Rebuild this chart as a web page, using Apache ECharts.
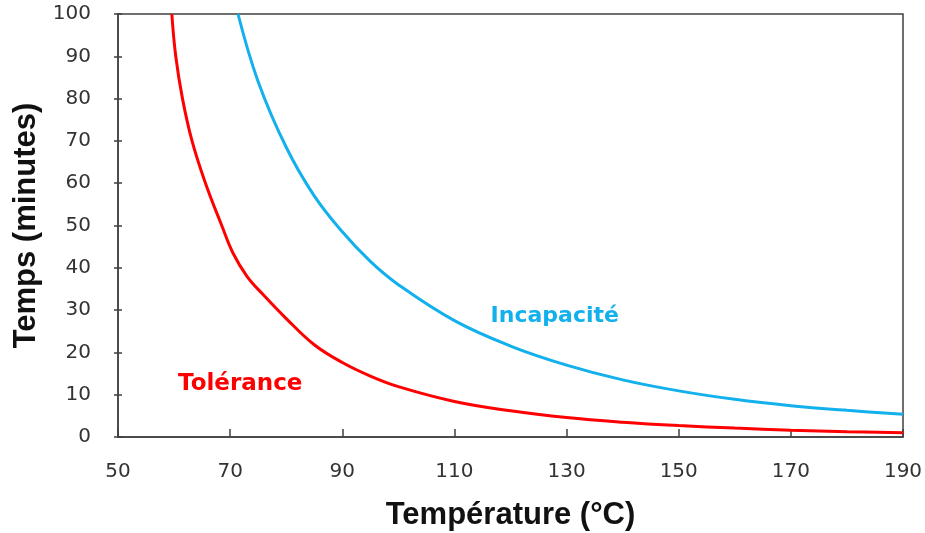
<!DOCTYPE html>
<html>
  <head>
    <meta charset="UTF-8" />
    <title>Temps vs Température</title>
    <style>
      html, body { margin: 0; padding: 0; background: #fff; }
      #chart { width: 925px; height: 533px; }
    </style>
    <script type="text/javascript" src="https://cdn.jsdelivr.net/npm/echarts@6/dist/echarts.min.js"></script>
  </head>
  <body>
    <div id="chart"></div>
    <script>
      // courbe de tolérance : [température °C, temps min]
      var tolerance = [
        [59.6, 100], [60.3, 90], [61.5, 80], [63.2, 70], [65.6, 60],
        [68.5, 50], [70.5, 43.5], [73, 38], [76, 33.5], [80, 28],
        [85, 21.8], [90, 17.6], [95, 14.4], [100, 11.9], [110, 8.4],
        [120, 6.2], [130, 4.6], [140, 3.5], [150, 2.7], [160, 2.1],
        [170, 1.6], [180, 1.25], [190, 1.0]
      ];
      // courbe d'incapacité
      var incapacite = [
        [71.4, 100], [75, 84], [80, 68.5], [85, 57], [90, 48.5],
        [95, 41.5], [100, 36], [110, 27.5], [120, 21.5], [130, 17],
        [140, 13.5], [150, 10.9], [160, 8.9], [170, 7.4], [180, 6.3],
        [190, 5.4]
      ];
      var xTicks = [50, 190, 20];   // min, max, pas
      var yTicks = [0, 100, 10];
      var toleranceLabel = [71.8, 12.5];
      var incapaciteLabel = [127.9, 28.6];

      var chart = echarts.init(document.getElementById("chart"));
      var axisColor = "#404040";
      var labelFont = { color: "#333", fontSize: 20, fontFamily: "DejaVu Sans" };
      var tickStyle = { color: axisColor, width: 1.5 };

      // axe secondaire : seulement les graduations, décalées pour croiser l'axe
      function tickAxis(range, pos) {
        return {
          type: "value", min: range[0], max: range[1], interval: range[2],
          position: pos, offset: 4,
          axisLine: { show: false },
          axisTick: { show: true, inside: true, length: 8, lineStyle: tickStyle },
          axisLabel: { show: false },
          splitLine: { show: false }
        };
      }

      var option = {
        animation: false,
        grid: {
          left: 118, right: 22, top: 14, bottom: 96,
          outerBoundsMode: "none", containLabel: false,
          show: true, borderColor: axisColor, borderWidth: 1.5
        },
        xAxis: [
          {
            type: "value", min: xTicks[0], max: xTicks[1], interval: xTicks[2],
            name: "Température (°C)", nameLocation: "middle", nameGap: 63,
            nameTextStyle: { color: "#111", fontSize: 31, fontWeight: "bold", fontFamily: "Liberation Sans" },
            axisLine: { lineStyle: { color: axisColor, width: 1.5 } },
            axisTick: { show: false },
            axisLabel: Object.assign({ margin: 25 }, labelFont),
            splitLine: { show: false }
          },
          tickAxis(xTicks, "bottom")
        ],
        yAxis: [
          {
            type: "value", min: yTicks[0], max: yTicks[1], interval: yTicks[2],
            name: "Temps (minutes)", nameLocation: "middle", nameGap: 76,
            nameTextStyle: { color: "#111", fontSize: 31, fontWeight: "bold", fontFamily: "Liberation Sans" },
            axisLine: { show: true, lineStyle: { color: axisColor, width: 1.5 } },
            axisTick: { show: false },
            axisLabel: Object.assign({ margin: 27 }, labelFont),
            splitLine: { show: false }
          },
          tickAxis(yTicks, "left")
        ],
        series: [
          {
            name: "Tolérance", type: "line", data: tolerance, smooth: 0.4,
            showSymbol: false, lineStyle: { color: "#ff0000", width: 3 },
            markPoint: {
              symbol: "circle", symbolSize: 0,
              label: {
                show: true, formatter: "Tolérance", color: "#ff0000",
                fontSize: 23, fontWeight: "bold", fontFamily: "DejaVu Sans"
              },
              data: [{ coord: toleranceLabel }]
            }
          },
          {
            name: "Incapacité", type: "line", data: incapacite, smooth: 0.4,
            showSymbol: false, lineStyle: { color: "#12b0ec", width: 3 },
            markPoint: {
              symbol: "circle", symbolSize: 0,
              label: {
                show: true, formatter: "Incapacité", color: "#12b0ec",
                fontSize: 22, fontWeight: "bold", fontFamily: "DejaVu Sans"
              },
              data: [{ coord: incapaciteLabel }]
            }
          }
        ]
      };

      chart.setOption(option);
    </script>
  </body>
</html>
